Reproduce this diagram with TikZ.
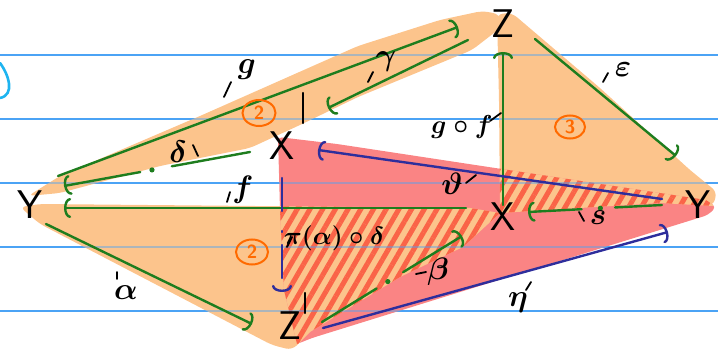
\documentclass[tikz,border=0pt]{standalone}
\usepackage{fix-cm}
\usepackage{tikz}
\usetikzlibrary{arrows.meta,calc,patterns.meta,shapes.geometric}
\definecolor{peach}{HTML}{FCC48C}
\definecolor{rose}{HTML}{FA8484}
\definecolor{hatch}{HTML}{FA6448}
\definecolor{leaf}{HTML}{1E7D1E}
\definecolor{ink}{HTML}{2E2E9C}
\definecolor{ruled}{HTML}{4BA3F5}
\definecolor{sky}{HTML}{1EB4F0}
\definecolor{tag}{HTML}{FF6A00}
\tikzset{
  obj/.style={font=\sffamily\fontsize{40}{40}\selectfont, inner sep=0pt},
  lbl/.style={font=\fontsize{31}{33}\selectfont\boldmath, inner sep=0pt},
  leader/.style={line width=1.8pt, line cap=round},
  gseg/.style={draw=leaf, line width=2.4pt, line cap=round},
  gflow/.style={gseg, -{Arc Barb[length=6pt,width=20pt,round]}},
  bflow/.style={draw=ink, line width=2.4pt, line cap=round, -{Arc Barb[length=6pt,width=20pt,round]}},
  hatched/.style={fill=peach, postaction={pattern={Lines[angle=60,distance=11pt,line width=5pt]}, pattern color=hatch}},
  num/.style={ellipse, draw=tag, text=tag, line width=2pt, inner sep=0pt, font=\sffamily\bfseries\fontsize{19}{19}\selectfont},
  rule/.style={draw=ruled, line width=1.3pt},
}
\begin{document}
\begin{tikzpicture}[x=1pt, y=-1pt]
  \useasboundingbox (0,0) rectangle (718,350);
  \foreach \y in {55,119,183,247,311} \draw[rule] (0,\y) -- (718,\y);
  \draw[sky, line width=2.6pt, line cap=round] (0,63) .. controls (9,75) and (15,95) .. (0,98);
  % shaded faces
  \fill[peach, rounded corners=6pt] (28,196) -- (60,176) -- (200,116) -- (358,46) -- (440,20) -- (482,11) -- (499,14) -- (503,26) -- (472,50) -- (358,97) -- (300,125) -- (276,136) -- (250,148) -- (160,166) -- (60,193) -- cycle;
  \fill[peach, rounded corners=6pt] (20,207) -- (40,204) -- (470,208) -- (500,213) -- (463,247) -- (400,277) -- (310,332) -- (292,350) -- (272,345) -- (40,224) -- cycle;
  \fill[peach, rounded corners=6pt] (497,14) -- (512,13) -- (600,88) -- (690,170) -- (717,192) -- (713,206) -- (660,203) -- (500,213) -- (499,100) -- cycle;
  \fill[rose, rounded corners=4pt] (278,137) -- (337,144) -- (706,200) -- (716,207) -- (708,215) -- (312,338) -- (297,344) -- (284,290) -- (280,210) -- cycle;
  \begin{scope}
    \clip (278,137) -- (337,144) -- (706,200) -- (716,207) -- (708,215) -- (312,338) -- (297,344) -- (284,290) -- (280,210) -- cycle;
    \path[hatched] (20,207) -- (40,204) -- (470,208) -- (500,213) -- (463,247) -- (400,277) -- (310,332) -- (292,350) -- (272,345) -- (40,224) -- cycle;
    \path[hatched] (497,14) -- (512,13) -- (600,88) -- (690,170) -- (717,192) -- (713,206) -- (660,203) -- (500,213) -- (499,100) -- cycle;
  \end{scope}
  \foreach \y in {55,119,183,247,311} \draw[rule, opacity=.45] (0,\y) -- (718,\y);

  \node[obj] (Yl) at (30,205) {Y};
  \node[obj] (Zt) at (503,24) {Z};
  \node[obj] (Xp) at (282,146) {X};
  \node[obj] (Xc) at (503,217) {X};
  \node[obj] (Yr) at (698,205) {Y};
  \node[obj] (Zb) at (290,326) {Z};
  \draw[leader, line width=2.4pt] ($(Xp)+(21,-53)$) -- ++(0,30);
  \draw[leader, line width=2.4pt] ($(Zb)+(15,-33)$) -- ++(0,20);

  \draw[gflow] ($(Yl)+(28,-29)$) -- ($(Zt)+(-45,3)$);
  \draw[gflow] ($(Zt)+(-35,16)$) -- ($(Xp)+(46,-38)$);
  \draw[gflow] ($(Xc)+(-37,-9)$) -- ($(Yl)+(34,3)$);
  \draw[gflow] ($(Yl)+(16,19)$) -- ($(Zb)+(-38,-2)$);
  \draw[gflow] ($(Xc)+(0,-12)$) -- ($(Zt)+(0,28)$);
  \draw[gflow] ($(Zt)+(32,15)$) -- ($(Yr)+(-22,-49)$);
  \coordinate (d0) at ($(Xp)+(-32,6)$);
  \coordinate (d1) at ($(Yl)+(34,-19)$);
  \draw[gseg] (d0) -- ($(d0)!.42!(d1)$);
  \fill[leaf] ($(d0)!.527!(d1)$) circle (2.6);
  \draw[gflow] ($(d0)!.59!(d1)$) -- (d1);
  \coordinate (b0) at ($(Zb)+(32,-4)$);
  \coordinate (b1) at ($(Xc)+(-41,19)$);
  \draw[gseg] (b0) -- ($(b0)!.39!(b1)$);
  \fill[leaf] ($(b0)!.47!(b1)$) circle (2.6);
  \draw[gflow] ($(b0)!.58!(b1)$) -- (b1);
  \coordinate (s0) at ($(Yr)+(-36,0)$);
  \coordinate (s1) at ($(Xc)+(25,-5)$);
  \draw[gseg] (s0) -- ($(s0)!.35!(s1)$);
  \fill[leaf] ($(s0)!.46!(s1)$) circle (2.6);
  \draw[gflow] ($(s0)!.6!(s1)$) -- (s1);

  \draw[bflow] ($(Yr)+(-36,-6)$) -- ($(Xp)+(36,4)$);
  \draw[bflow, dash pattern=on 33pt off 20pt on 1pt off 13pt] ($(Xp)+(0,32)$) -- ($(Zb)+(-8,-34)$);
  \draw[bflow] ($(Zb)+(33,2)$) -- ($(Yr)+(-30,27)$);

  \node[lbl] (lg) at (247,70) {$g$};
  \node[lbl] (lgam) at (386,62) {$\gamma$};
  \node[lbl] (ldel) at (178,152) {$\delta$};
  \node[lbl] (leps) at (623,70) {$\varepsilon$};
  \node[lbl, font=\fontsize{26}{28}\selectfont\boldmath] (lgf) at (462,127) {$g\circ f$};
  \node[lbl] (lf) at (243,190) {$f$};
  \node[lbl] (lalp) at (126,293) {$\alpha$};
  \node[lbl, font=\fontsize{25}{27}\selectfont\boldmath] (lpi) at (334,238) {$\pi(\alpha)\circ\delta$};
  \node[lbl] (lth) at (452,184) {$\vartheta$};
  \node[lbl] (lbet) at (438,272) {$\beta$};
  \node[lbl] (ls) at (598,218) {$s$};
  \node[lbl] (leta) at (518,303) {$\eta$};
  \draw[leader] ($(lg)+(-23,27)$) -- ++(7,-15);
  \draw[leader] ($(lgam)+(-18,20)$) -- ++(5,-10);
  \draw[leader] ($(ldel)+(15,-7)$) -- ++(5,11);
  \draw[leader] ($(leps)+(-20,12)$) -- ++(5,-9);
  \draw[leader] ($(lgf)+(28,-6)$) -- ++(11,-8);
  \draw[leader] ($(lf)+(-16,12)$) -- ++(3,-10);
  \draw[leader] ($(lalp)+(-9,-21)$) -- ++(0,7);
  \draw[leader] ($(lpi)+(-47,9)$) -- ++(5,-10);
  \draw[leader] ($(lth)+(14,-1)$) -- ++(10,-8);
  \draw[leader] ($(lbet)+(-22,2)$) -- ++(10,-2);
  \draw[leader] ($(ls)+(-19,-6)$) -- ++(5,9);
  \draw[leader] ($(leta)+(8,-13)$) -- ++(5,-8);

  \node[num, minimum width=33pt, minimum height=26pt] (c2a) at (259,113) {2};
  \node[num, minimum width=32pt, minimum height=25pt] (c2b) at (252,252) {2};
  \node[num, minimum width=30pt, minimum height=23pt] (c3) at (570,127) {3};
\end{tikzpicture}
\end{document}
